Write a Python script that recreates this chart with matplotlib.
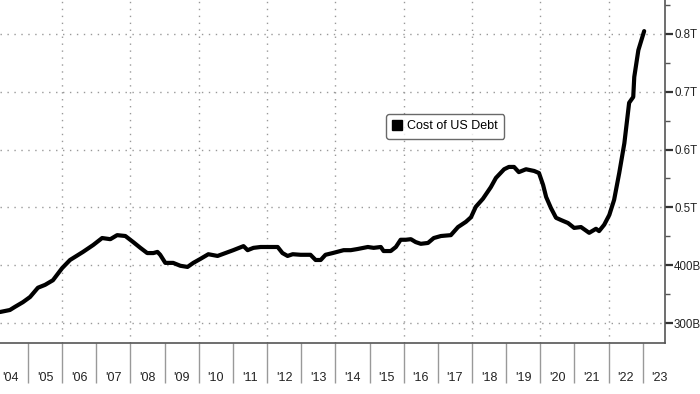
import matplotlib
matplotlib.use("Agg")
import matplotlib.pyplot as plt
from matplotlib.patches import Patch
from matplotlib.ticker import FixedLocator, NullFormatter

plt.rcParams['font.family'] = ['Liberation Sans', 'DejaVu Sans']

# Cost of US Debt, billions of USD
years = [2004.18, 2004.47, 2004.62, 2004.85, 2005.06, 2005.29, 2005.50, 2005.73,
         2006.00, 2006.23, 2006.61, 2006.91, 2007.17, 2007.41, 2007.61, 2007.85,
         2008.08, 2008.29, 2008.49, 2008.67, 2008.79, 2008.87, 2009.02, 2009.25,
         2009.46, 2009.67, 2009.84, 2010.05, 2010.28, 2010.55, 2010.78, 2011.01,
         2011.31, 2011.43, 2011.60, 2011.81, 2012.01, 2012.31, 2012.45, 2012.60,
         2012.75, 2012.98, 2013.27, 2013.42, 2013.57, 2013.71, 2013.92, 2014.24,
         2014.45, 2014.65, 2014.95, 2015.12, 2015.33, 2015.41, 2015.62, 2015.77,
         2015.91, 2016.06, 2016.21, 2016.35, 2016.50, 2016.71, 2016.88, 2017.09,
         2017.38, 2017.59, 2017.82, 2017.97, 2018.11, 2018.32, 2018.55, 2018.70,
         2018.94, 2019.08, 2019.23, 2019.37, 2019.58, 2019.82, 2019.96, 2020.08,
         2020.17, 2020.31, 2020.46, 2020.61, 2020.81, 2020.99, 2021.19, 2021.43,
         2021.63, 2021.72, 2021.87, 2022.02, 2022.16, 2022.31, 2022.46, 2022.60,
         2022.72, 2022.75, 2022.87, 2023.04]
cost = [319, 322.5, 328, 336, 345, 361, 366, 374,
        395, 409, 423, 435, 447, 445, 452, 450.5,
        440, 430, 421, 421, 423, 418, 404, 404,
        399, 397, 404, 411, 419, 416, 421, 426,
        433, 426, 430, 431.5, 431.5, 431.5, 421, 416,
        419, 418, 418, 409, 409, 418, 421, 426,
        426, 428, 431.5, 430, 431.5, 424.5, 424.5, 431.5,
        444, 444, 445, 440, 437, 438.5, 447, 450.5,
        452, 466, 475, 483, 501, 515, 535, 551,
        566, 570, 570, 561, 566, 563, 559.5, 539,
        518, 499, 482, 478, 473, 464.5, 466, 456,
        463, 459, 470, 487, 513, 559.5, 611, 681,
        691, 725.6, 772, 805]

year_bounds = list(range(2005, 2024))
year_labels = ["'%02d" % (y % 100) for y in range(2004, 2024)]
y_ticks = [300, 400, 500, 600, 700, 800]
y_labels = ['300B', '400B', '0.5T', '0.6T', '0.7T', '0.8T']
legend_label = 'Cost of US Debt'

fig = plt.figure(figsize=(7.0, 3.94), dpi=100)
ax = fig.add_axes([0.0, 1 - 343 / 394, 665 / 700, 343 / 394])

ax.plot(years, cost, color='black', lw=3.0, solid_joinstyle='round', solid_capstyle='round')

ax.set_xlim(2004.18, 2023.65)
ax.set_ylim(265.4, 858.8)

# spines
for s in ['left', 'top']:
    ax.spines[s].set_visible(False)
for s in ['right', 'bottom']:
    ax.spines[s].set_color('#555555')
    ax.spines[s].set_linewidth(1.2)

# y axis on right
ax.yaxis.tick_right()
ax.set_yticks(y_ticks)
ax.set_yticklabels(y_labels)
ax.yaxis.set_minor_locator(FixedLocator([350, 450, 550, 650, 750, 850]))
ax.tick_params(axis='y', which='major', direction='out', length=6, width=1.6,
               color='#333333', labelsize=8.3, pad=0.5, labelcolor='#222222')
ax.tick_params(axis='y', which='minor', direction='out', length=3.5, width=1.0,
               color='#555555')

# x axis: boundaries as long ticks, labels centred on each year
ax.set_xticks(year_bounds)
ax.xaxis.set_major_formatter(NullFormatter())
ax.set_xticks([y + 0.5 for y in range(2004, 2024)], minor=True)
ax.set_xticklabels(year_labels, minor=True)
ax.tick_params(axis='x', which='major', direction='out', length=29, width=1.0,
               color='#999999')
ax.tick_params(axis='x', which='minor', length=0, labelsize=9, pad=21,
               labelcolor='#222222')

# grid
for v in y_ticks:
    ax.axhline(v, color='#999999', lw=1.0, ls=(0, (1, 4)), zorder=0)
for yb in range(2006, 2023, 2):
    ax.axvline(yb, color='#999999', lw=1.0, ls=(0, (1, 4)), zorder=0)

leg = ax.legend(handles=[Patch(facecolor='black', edgecolor='black', label=legend_label)],
                loc='upper left', bbox_to_anchor=(386 / 665, 1 - 114 / 343),
                fontsize=9, frameon=True, fancybox=True, handlelength=0.8,
                handleheight=0.8, handletextpad=0.4, borderpad=0.5,
                borderaxespad=0)
leg.get_frame().set_edgecolor('#444444')
leg.get_frame().set_linewidth(1.0)

fig.savefig('out.png', dpi=100, facecolor='white')
